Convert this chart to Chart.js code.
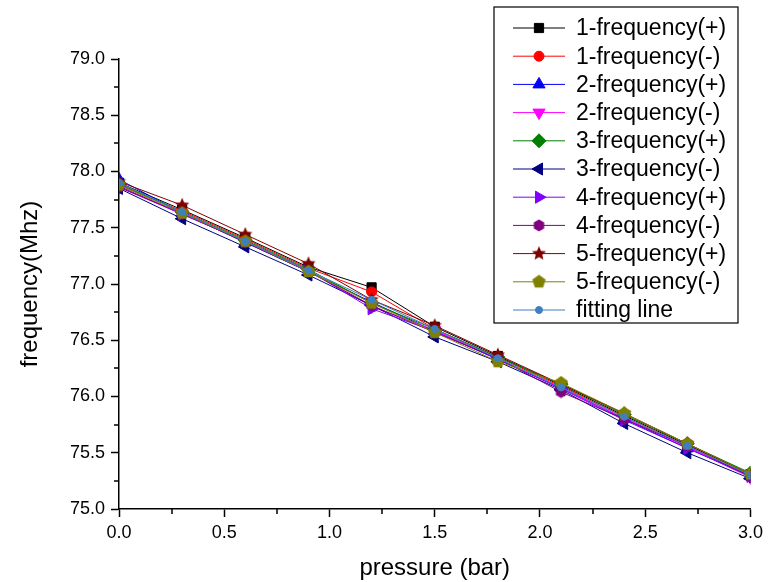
<!DOCTYPE html>
<html>
<head>
<meta charset="utf-8">
<script src="https://cdn.jsdelivr.net/npm/chart.js@4.4.0/dist/chart.umd.min.js"></script>
<style>
  html, body { margin: 0; padding: 0; background: #fff; }
</style>
</head>
<body>
<canvas id="chart" width="768" height="582"></canvas>
<script>
// pressure steps (bar)
const pressure = [0, 0.3, 0.6, 0.9, 1.2, 1.5, 1.8, 2.1, 2.4, 2.7, 3.0];

const seriesNames = ["1-frequency(+)", "1-frequency(-)", "2-frequency(+)", "2-frequency(-)",
  "3-frequency(+)", "3-frequency(-)", "4-frequency(+)", "4-frequency(-)",
  "5-frequency(+)", "5-frequency(-)", "fitting line"];

// frequency readings (MHz)
const freq1Plus  = [77.90, 77.66, 77.41, 77.15, 76.97, 76.62, 76.36, 76.10, 75.83, 75.57, 75.31];
const freq1Minus = [77.88, 77.65, 77.40, 77.14, 76.93, 76.60, 76.35, 76.09, 75.82, 75.56, 75.30];
const freq2Plus  = [77.93, 77.63, 77.37, 77.11, 76.84, 76.58, 76.33, 76.08, 75.80, 75.54, 75.30];
const freq2Minus = [77.86, 77.62, 77.38, 77.12, 76.80, 76.59, 76.34, 76.07, 75.81, 75.55, 75.28];
const freq3Plus  = [77.89, 77.64, 77.39, 77.13, 76.83, 76.60, 76.35, 76.11, 75.84, 75.58, 75.32];
const freq3Minus = [77.85, 77.58, 77.33, 77.08, 76.81, 76.53, 76.31, 76.06, 75.76, 75.50, 75.27];
const freq4Plus  = [77.87, 77.62, 77.38, 77.12, 76.78, 76.58, 76.33, 76.07, 75.79, 75.54, 75.29];
const freq4Minus = [77.86, 77.63, 77.37, 77.11, 76.81, 76.57, 76.34, 76.04, 75.80, 75.56, 75.29];
const freq5Plus  = [77.91, 77.70, 77.44, 77.18, 76.86, 76.63, 76.37, 76.11, 75.85, 75.58, 75.31];
const freq5Minus = [77.88, 77.63, 77.38, 77.11, 76.83, 76.57, 76.31, 76.12, 75.85, 75.58, 75.31];
const fitLine    = [77.90, 77.64, 77.38, 77.12, 76.86, 76.60, 76.34, 76.08, 75.82, 75.56, 75.30];

const FONT = 'Arial, "Liberation Sans", sans-serif';

// marker shapes chart.js doesn't have
function polyMarker(n, size, color, inner) {
  const c = document.createElement("canvas");
  c.width = c.height = size;
  const g = c.getContext("2d");
  const r = size / 2 - 0.5;
  const pts = inner ? n * 2 : n;
  g.beginPath();
  for (let i = 0; i < pts; i++) {
    const a = -Math.PI / 2 + i * Math.PI * 2 / pts;
    const rr = (inner && i % 2) ? r * inner : r;
    const px = size / 2 + rr * Math.cos(a), py = size / 2 + rr * Math.sin(a);
    i ? g.lineTo(px, py) : g.moveTo(px, py);
  }
  g.closePath();
  g.fillStyle = color;
  g.fill();
  return c;
}

const styles = [
  { color: "#000000", point: "rect", radius: 6.5 },
  { color: "#FF0000", point: "circle", radius: 5 },
  { color: "#0000FF", point: "triangle", radius: 7 },
  { color: "#FF00FF", point: "triangle", radius: 7, rot: 180 },
  { color: "#008000", point: "rectRot", radius: 7 },
  { color: "#000080", point: "triangle", radius: 7, rot: 270 },
  { color: "#8000FF", point: "triangle", radius: 7, rot: 90 },
  { color: "#800080", point: polyMarker(6, 13, "#800080"), radius: 6.5 },
  { color: "#800000", point: polyMarker(5, 16, "#800000", 0.45), radius: 8 },
  { color: "#808000", point: polyMarker(5, 15, "#808000"), radius: 7.5 },
  { color: "#3F7FBF", point: "circle", radius: 3.5 }
];

const allSeries = [freq1Plus, freq1Minus, freq2Plus, freq2Minus, freq3Plus, freq3Minus,
  freq4Plus, freq4Minus, freq5Plus, freq5Minus, fitLine];

const datasets = allSeries.map((vals, i) => ({
  label: seriesNames[i],
  data: vals.map((v, j) => ({ x: pressure[j], y: v })),
  borderColor: styles[i].color,
  backgroundColor: styles[i].color,
  borderWidth: 1,
  pointStyle: styles[i].point,
  pointRotation: styles[i].rot || 0,
  pointRadius: styles[i].radius,
  pointBorderWidth: 1,
  order: 10 - i
}));

const isHalf = v => Math.abs(v * 2 - Math.round(v * 2)) < 1e-6;

// legend box + short minor ticks
const extras = {
  id: "extras",
  afterDraw(chart) {
    const ctx = chart.ctx;
    const xs = chart.scales.x, ys = chart.scales.y;
    ctx.save();
    ctx.strokeStyle = "#000";
    ctx.lineWidth = 1.5;
    ctx.beginPath();
    for (let v = 0.25; v < 3; v += 0.5) {
      const px = Math.round(xs.getPixelForValue(v));
      ctx.moveTo(px, xs.top); ctx.lineTo(px, xs.top + 5);
    }
    for (let v = 75.25; v < 79; v += 0.5) {
      const py = Math.round(ys.getPixelForValue(v));
      ctx.moveTo(ys.right, py); ctx.lineTo(ys.right - 5, py);
    }
    ctx.stroke();

    // legend
    const bx = 494, by = 7, bw = 244, bh = 316;
    ctx.fillStyle = "#fff";
    ctx.fillRect(bx, by, bw, bh);
    ctx.lineWidth = 1.2;
    ctx.strokeRect(bx, by, bw, bh);
    ctx.font = "23px " + FONT;
    ctx.textBaseline = "middle";
    chart.data.datasets.forEach((ds, i) => {
      const y = 28 + i * 28.2;
      ctx.strokeStyle = ds.borderColor;
      ctx.lineWidth = 1;
      ctx.beginPath();
      ctx.moveTo(513, y); ctx.lineTo(565, y);
      ctx.stroke();
      ctx.fillStyle = ds.backgroundColor;
      Chart.helpers.drawPoint(ctx, {
        pointStyle: ds.pointStyle, rotation: ds.pointRotation,
        radius: ds.pointRadius, borderWidth: 1
      }, 539, y);
      ctx.fillStyle = "#000";
      ctx.fillText(ds.label, 576, y + 1);
    });
    ctx.restore();
  }
};

new Chart(document.getElementById("chart"), {
  type: "line",
  data: { datasets },
  options: {
    responsive: false,
    animation: false,
    layout: { padding: { left: 0, top: 59, right: 15, bottom: 0 } },
    plugins: { legend: { display: false }, tooltip: { enabled: false } },
    scales: {
      x: {
        type: "linear",
        min: 0, max: 3,
        afterFit: s => { s.height = 73; },
        ticks: {
          stepSize: 0.25, padding: 5, color: "#000",
          font: { family: FONT, size: 18 },
          callback: v => isHalf(v) ? v.toFixed(1) : ""
        },
        grid: {
          drawOnChartArea: false, drawTicks: true, tickLength: 8, tickWidth: 1.5,
          tickColor: c => isHalf(c.tick.value) ? "#000" : "rgba(0,0,0,0)"
        },
        border: { display: true, color: "#000", width: 1.5 },
        title: {
          display: true, text: "pressure (bar)", color: "#000",
          font: { family: FONT, size: 24, lineHeight: 1.1 },
          padding: { top: 0, bottom: 0 }
        }
      },
      y: {
        min: 75, max: 79,
        afterFit: s => { s.width = 119; },
        ticks: {
          stepSize: 0.25, padding: 6, color: "#000",
          font: { family: FONT, size: 18 },
          callback: v => isHalf(v) ? v.toFixed(1) : ""
        },
        grid: {
          drawOnChartArea: false, drawTicks: true, tickLength: 8, tickWidth: 1.5,
          tickColor: c => isHalf(c.tick.value) ? "#000" : "rgba(0,0,0,0)"
        },
        border: { display: true, color: "#000", width: 1.5 },
        title: {
          display: true, text: "frequency(Mhz)", color: "#000",
          font: { family: FONT, size: 24, lineHeight: 1.1 },
          padding: { top: 17, bottom: 0 }
        }
      }
    }
  },
  plugins: [extras]
});
</script>
</body>
</html>
